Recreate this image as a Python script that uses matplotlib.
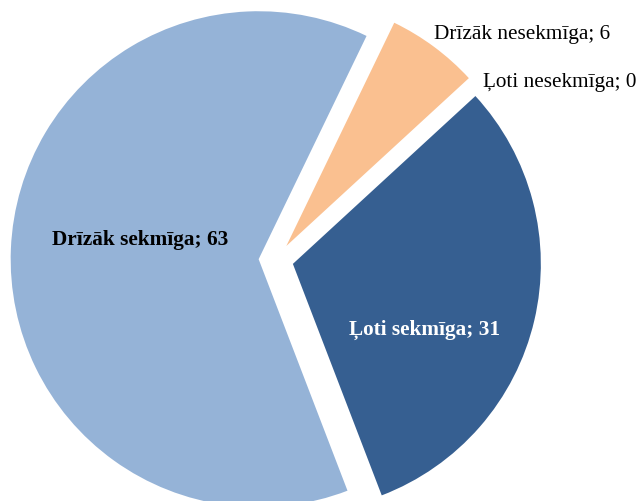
import matplotlib
matplotlib.use("Agg")
import matplotlib.pyplot as plt

categories = ["Ļoti sekmīga", "Drīzāk sekmīga", "Drīzāk nesekmīga", "Ļoti nesekmīga"]
values = [31, 63, 6, 0]
colors = ["#365F91", "#95B3D7", "#FAC090", "#4F81BD"]

plt.rcParams['font.family'] = ['Liberation Serif', 'DejaVu Serif']

fig = plt.figure(figsize=(6.38, 5.02), dpi=100)
ax = fig.add_axes([0, 0, 1, 1])
ax.set_axis_off()

wedges, _ = ax.pie(values, colors=colors, startangle=42.6, counterclock=False,
                   explode=[0.07] * len(values), radius=1.0,
                   wedgeprops=dict(linewidth=0))
ax.set_xlim(-1.113, 1.460)
ax.set_ylim(-0.972, 1.052)
ax.set_aspect('equal')

def px(x, y):
    # convert pixel coords (from top-left) to data coords
    return (-1.113 + x / 248.0, 1.052 - y / 248.0)

fs = 15.3
labels = [f"{c}; {v}" for c, v in zip(categories, values)]
ax.text(*px(425, 330), labels[0], ha='center', va='center', fontsize=fs,
        fontweight='bold', color='white')
ax.text(*px(140, 240), labels[1], ha='center', va='center', fontsize=fs,
        fontweight='bold', color='black')
ax.text(*px(522, 34), labels[2], ha='center', va='center', fontsize=fs,
        color='black')
ax.text(*px(560, 82), labels[3], ha='center', va='center', fontsize=fs,
        color='black')

fig.savefig("out.png", dpi=100)
